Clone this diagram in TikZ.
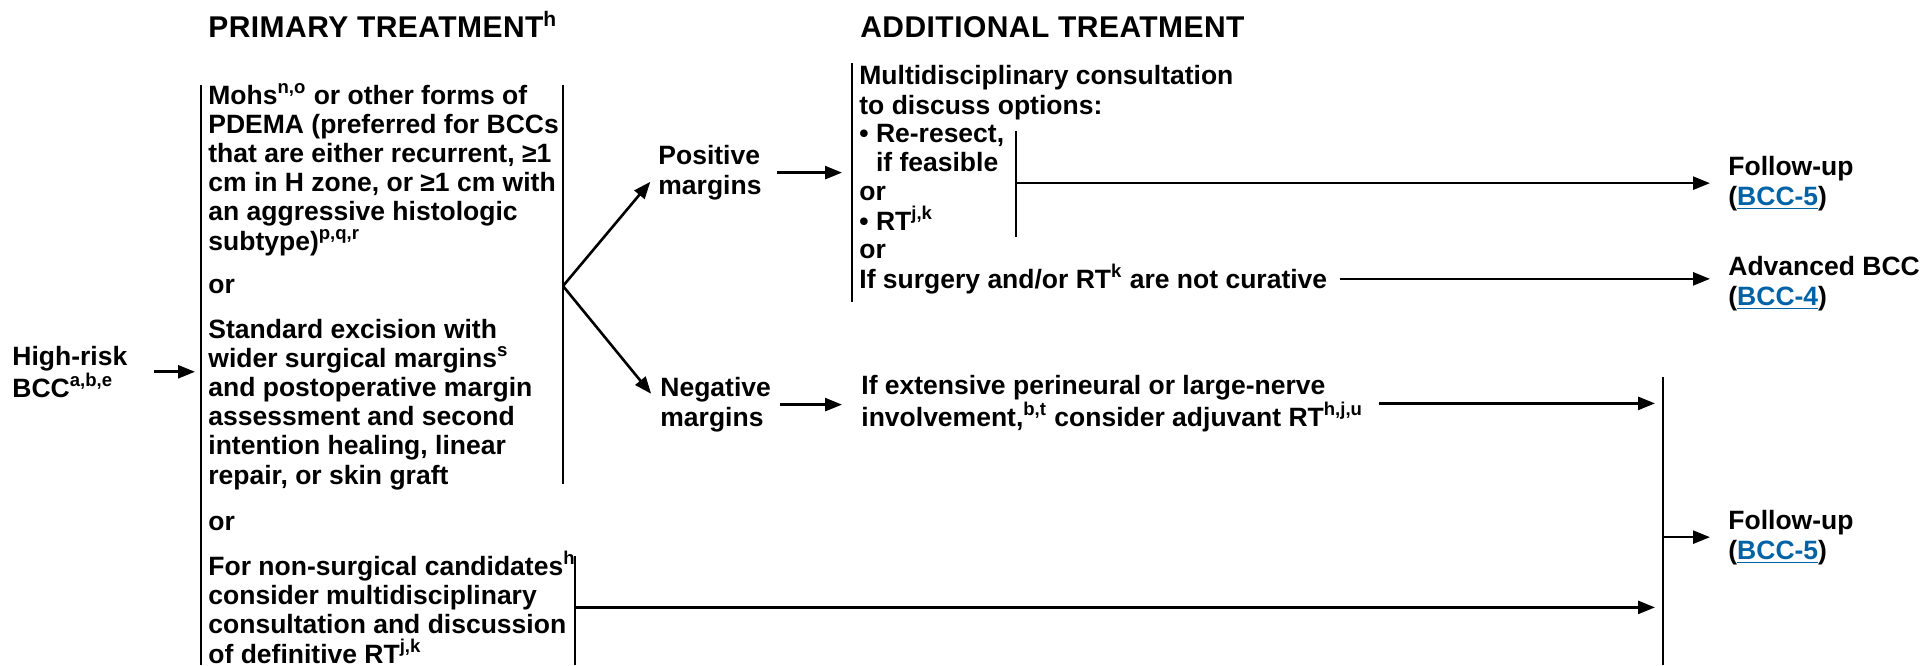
\documentclass[tikz,border=0pt]{standalone}
\usepackage{fontspec}
\setmainfont{Liberation Sans}
\usetikzlibrary{positioning}
\usetikzlibrary{arrows.meta}
\definecolor{linkblue}{HTML}{0063A6}
\newcommand{\pagelink}[1]{\textcolor{linkblue}{\underline{#1}}}

\begin{document}
\begin{tikzpicture}[x=0.5pt, y=-0.5pt,
        txt/.style={anchor=base west, inner sep=0pt, align=left, font=\fontsize{13.25}{14.6}\selectfont\bfseries},
        hdr/.style={anchor=base west, inner sep=0pt, font=\fontsize{15}{18}\selectfont\bfseries\addfontfeature{LetterSpace=1.5}},
        dest/.style={txt, font=\fontsize{13.25}{15}\selectfont\bfseries},
        bar/.style={line width=1.3pt},
        arr/.style={line width=1.3pt, -{Triangle[length=8.5pt,width=6.5pt]}}]
        \useasboundingbox (0,0) rectangle (1923,665);

        \node[hdr] (hdrprim) at (208,37) {PRIMARY TREATMENT\textsuperscript{h}};
        \node[hdr] (hdradd) at (860,37) {ADDITIONAL TREATMENT};

        \node[txt] (risk) at (12,397) {High-risk\\BCC\textsuperscript{a,b,e}};

        \node[txt] (mohs) at (208,250) {Mohs\textsuperscript{n,o} or other forms of\\PDEMA (preferred for BCCs\\that are either recurrent, ≥1\\cm in H zone, or ≥1 cm with\\an aggressive histologic\\subtype)\textsuperscript{p,q,r}};
        \node[txt] (or1) at (208,293) {or};
        \node[txt] (excision) at (208,484) {Standard excision with\\wider surgical margins\textsuperscript{s}\\and postoperative margin\\assessment and second\\intention healing, linear\\repair, or skin graft};
        \node[txt] (or2) at (208,530) {or};
        \node[txt] (nonsurg) at (208,663) {For non-surgical candidates\textsuperscript{h}\\consider multidisciplinary\\consultation and discussion\\of definitive RT\textsuperscript{j,k}};

        \node[txt] (pos) at (658,194) {Positive\\margins};
        \node[txt] (neg) at (660,426) {Negative\\margins};

        \node[txt] (consult) at (859,114) {Multidisciplinary consultation\\to discuss options:};
        \node[txt] (opts) at (859,230) {• Re-resect,\\\phantom{• }if feasible\\or\\• RT\textsuperscript{j,k}};
        \node[txt] (or3) at (859,258) {or};
        \node[txt] (curative) at (859,288) {If surgery and/or RT\textsuperscript{k} are not curative};
        \node[txt] (adjuvant) at (861,426) {If extensive perineural or large-nerve\\involvement,\textsuperscript{b,t} consider adjuvant RT\textsuperscript{h,j,u}};

        \node[dest] (fu1) at (1728,205) {Follow-up\\(\pagelink{BCC-5})};
        \node[dest] (adv) at (1728,305) {Advanced BCC\\(\pagelink{BCC-4})};
        \node[dest] (fu2) at (1728,559) {Follow-up\\(\pagelink{BCC-5})};

        \coordinate (primtop) at (201,85);
        \coordinate (primbot) at (201,665);
        \coordinate (surgtop) at (563,85);
        \coordinate (surgbot) at (563,484);
        \coordinate (fork) at (563,286);
        \coordinate (rttop) at (575,556);
        \coordinate (rtbot) at (575,665);
        \coordinate (addtop) at (852,63);
        \coordinate (addbot) at (852,302);
        \coordinate (opttop) at (1016,131);
        \coordinate (optbot) at (1016,237);
        \coordinate (fuptop) at (1663,377);
        \coordinate (fupbot) at (1663,665);

        \draw[bar] (primtop) -- (primbot);
        \draw[bar] (surgtop) -- (surgbot);
        \draw[bar] (rttop) -- (rtbot);
        \draw[bar] (addtop) -- (addbot);
        \draw[bar] (opttop) -- (optbot);
        \draw[bar] (fuptop) -- (fupbot);

        \draw[arr, shorten <=13pt, shorten >=3pt] (risk.east) -- (risk.east -| primtop);
        \draw[arr, shorten >=6pt] (fork) -- (pos.west);
        \draw[arr, shorten >=7pt] (fork) -- (neg.west);
        \draw[arr, shorten <=7.5pt, shorten >=5pt] (pos.east) -- (pos.east -| addtop);
        \draw[arr, shorten <=4.5pt, shorten >=9.5pt] (neg.east) -- (adjuvant.west |- neg.east);
        \draw[arr, shorten >=9pt] (opttop |- fu1.west) -- (fu1.west);
        \draw[arr, shorten <=6pt, shorten >=9pt] (curative.east) -- (curative.east -| adv.west);
        \draw[arr, shorten <=8pt, shorten >=4pt] (adjuvant.east) -- (adjuvant.east -| fuptop);
        \draw[arr, shorten >=4pt] (nonsurg.east -| rttop) -- (nonsurg.east -| fuptop);
        \draw[arr, shorten >=9pt] (fuptop |- fu2.west) -- (fu2.west);
    \end{tikzpicture}
\end{document}
